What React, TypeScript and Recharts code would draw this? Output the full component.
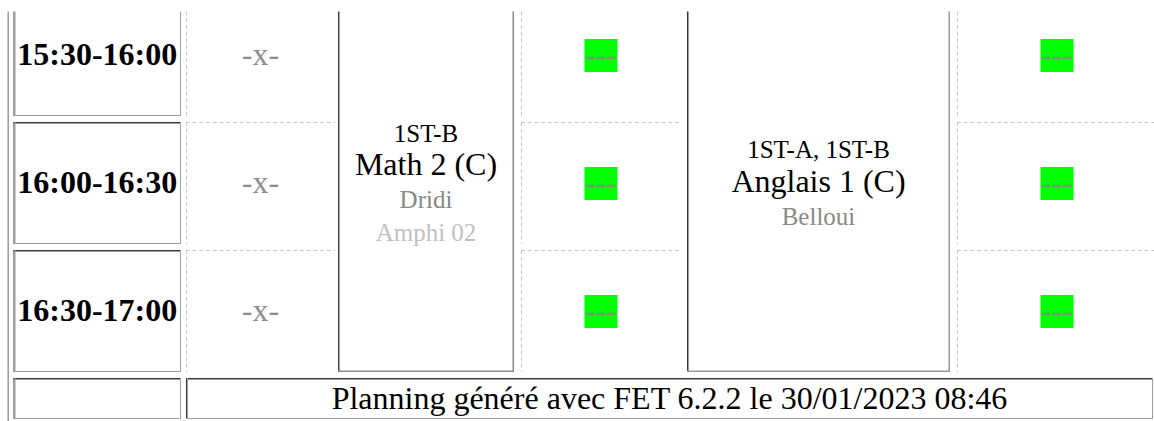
import React from 'react';
import { ComposedChart, XAxis, YAxis, ReferenceArea, ReferenceLine, Scatter } from 'recharts';

// Time slots visible in this part of the timetable
const timeSlots = ['15:30-16:00', '16:00-16:30', '16:30-17:00'];
// One entry per slot for the single-slot day columns
const unavailableSlots = ['-x-', '-x-', '-x-'];
const freeSlotsA = ['---', '---', '---'];
const freeSlotsB = ['---', '---', '---'];
// Activities spanning the three slots
const mathLines = ['1ST-B', 'Math 2 (C)', 'Dridi', 'Amphi 02'];
const anglaisLines = ['1ST-A, 1ST-B', 'Anglais 1 (C)', 'Belloui'];
const footerText = 'Planning généré avec FET 6.2.2 le 30/01/2023 08:46';

const W = 1154;
const H = 421;
const TOP = 11.5; // the crop starts a little above the visible table lines
const FONT = '"Liberation Serif", "Times New Roman", serif';

// table geometry (pixels, same as the axis domains)
const COLS: [number, number][] = [
  [13.5, 181], [186, 335], [338, 514], [521, 681], [687, 950], [957, 1157],
];
const ROWS: [number, number][] = [[-6, 116], [122, 244], [250, 372]];
const FOOT: [number, number] = [378, 419];
const LINE_GAP = 33.3;

const mid = (r: [number, number]) => (r[0] + r[1]) / 2;
const vTop = (y: number) => Math.max(y, TOP);

// inset-looking border (dark top/left, light bottom/right)
const insetCell = (dark: string, light: string, text?: string, bold?: boolean) => (p: any) => {
  const { x, y, width: w, height: h } = p;
  const showTop = y >= TOP;
  return (
    <g>
      {showTop && <line x1={x} y1={y + 0.5} x2={x + w} y2={y + 0.5} stroke={dark} />}
      {showTop && <line x1={x} y1={y + 1.5} x2={x + w} y2={y + 1.5} stroke={light} />}
      <line x1={x + 0.5} y1={vTop(y)} x2={x + 0.5} y2={y + h} stroke={dark} />
      <line x1={x + 1.5} y1={vTop(y)} x2={x + 1.5} y2={y + h} stroke={light} />
      <line x1={x} y1={y + h - 0.5} x2={x + w} y2={y + h - 0.5} stroke={light} />
      <line x1={x + w - 0.5} y1={vTop(y)} x2={x + w - 0.5} y2={y + h} stroke={light} />
      {text && (
        <text x={x + w / 2} y={y + h / 2 + 10} textAnchor="middle" fontFamily={FONT}
          fontSize={32} fontWeight={bold ? 700 : 400} fill="#000">{text}</text>
      )}
    </g>
  );
};

const dashedCell = (p: any) => {
  const { x, y, width: w, height: h } = p;
  return (
    <g>
      {y >= TOP && (
        <line x1={x} y1={y + 0.5} x2={x + w} y2={y + 0.5} stroke="#c8c8c8" strokeDasharray="4 2.7" />
      )}
      <line x1={x + 0.5} y1={vTop(y)} x2={x + 0.5} y2={y + h} stroke="#c8c8c8" strokeDasharray="4 2.7" />
    </g>
  );
};

const activityCell = (lines: string[], left: string, right: string) => (p: any) => {
  const { x, y, width: w, height: h } = p;
  const sizes = lines.map((_, i) => (i === 1 ? 32 : 25));
  const colors = ['#000', '#000', '#888', '#c0c0c0'];
  const c = y + h / 2;
  return (
    <g>
      <line x1={x + 0.75} y1={vTop(y)} x2={x + 0.75} y2={y + h} stroke={left} strokeWidth={1.5} />
      <line x1={x + w - 0.75} y1={vTop(y)} x2={x + w - 0.75} y2={y + h} stroke={right} strokeWidth={1.5} />
      <line x1={x} y1={y + h - 0.75} x2={x + w} y2={y + h - 0.75} stroke={right} strokeWidth={1.5} />
      {lines.map((t, i) => (
        <text key={t} x={x + w / 2} y={c + 8.5 + (i - (lines.length - 1) / 2) * LINE_GAP}
          textAnchor="middle" fontFamily={FONT} fontSize={sizes[i]} fill={colors[i]}>{t}</text>
      ))}
    </g>
  );
};

const FreeMark = (p: any) => {
  const { cx, cy, payload } = p;
  return (
    <g>
      <rect x={cx - 16.5} y={cy - 16} width={33} height={33} fill="#00ff00" />
      <text x={cx} y={cy + 10} textAnchor="middle" fontFamily={FONT} fontSize={32} fill="#888">{payload.text}</text>
    </g>
  );
};

const GreyMark = (p: any) => {
  const { cx, cy, payload } = p;
  return (
    <text x={cx} y={cy + 10} textAnchor="middle" fontFamily={FONT} fontSize={32} fill="#8c8c8c">{payload.text}</text>
  );
};

const slotPoints = (slots: string[], col: number) =>
  slots.map((text, i) => ({ x: mid(COLS[col]), y: mid(ROWS[i]), text }));

export default function App() {
  const xPoints = slotPoints(unavailableSlots, 1);
  const freePoints = [...slotPoints(freeSlotsA, 3), ...slotPoints(freeSlotsB, 5)];
  const spanRows: [number, number] = [ROWS[0][0], ROWS[ROWS.length - 1][1]];
  return (
    <div style={{ position: 'absolute', left: 0, top: 0, width: W, height: H, background: '#fff' }}>
      <ComposedChart width={W} height={H} margin={{ top: 0, right: 0, bottom: 0, left: 0 }}>
        <XAxis type="number" dataKey="x" domain={[0, W]} hide allowDataOverflow />
        <YAxis type="number" dataKey="y" domain={[0, H]} reversed hide allowDataOverflow />

        <ReferenceLine segment={[{ x: 8.2, y: TOP }, { x: 8.2, y: H }]} stroke="#a0a0a0" strokeWidth={1.6}
          ifOverflow="visible" />

        {timeSlots.map((t, i) => (
          <ReferenceArea key={t} x1={COLS[0][0]} x2={COLS[0][1]} y1={ROWS[i][0]} y2={ROWS[i][1]}
            ifOverflow="visible" shape={insetCell('#3a3a3a', '#a0a0a0', t, true)} />
        ))}

        {[1, 3, 5].map((col) =>
          ROWS.map((r, i) => (
            <ReferenceArea key={`d-${col}-${i}`} x1={COLS[col][0]} x2={COLS[col][1]} y1={r[0]} y2={r[1]}
              ifOverflow="visible" shape={dashedCell} />
          ))
        )}

        <ReferenceArea x1={COLS[2][0]} x2={COLS[2][1]} y1={spanRows[0]} y2={spanRows[1]}
          ifOverflow="visible" shape={activityCell(mathLines, '#444', '#8a8a8a')} />
        <ReferenceArea x1={COLS[4][0]} x2={COLS[4][1]} y1={spanRows[0]} y2={spanRows[1]}
          ifOverflow="visible" shape={activityCell(anglaisLines, '#333', '#999')} />

        <ReferenceArea x1={COLS[0][0]} x2={COLS[0][1]} y1={FOOT[0]} y2={FOOT[1]}
          ifOverflow="visible" shape={insetCell('#3a3a3a', '#a0a0a0')} />
        <ReferenceArea x1={COLS[1][0]} x2={1153} y1={FOOT[0]} y2={FOOT[1]}
          ifOverflow="visible" shape={insetCell('#3a3a3a', '#a0a0a0', footerText)} />

        <Scatter data={xPoints} shape={GreyMark} isAnimationActive={false} />
        <Scatter data={freePoints} shape={FreeMark} isAnimationActive={false} />
      </ComposedChart>
    </div>
  );
}
